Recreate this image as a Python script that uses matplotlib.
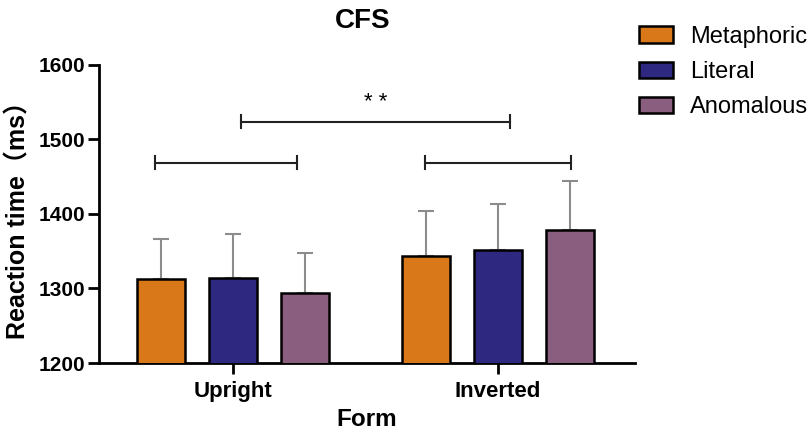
import matplotlib
matplotlib.use("Agg")
import matplotlib.pyplot as plt
import numpy as np
from matplotlib.patches import Patch

plt.rcParams['font.family'] = ['Liberation Sans', 'Noto Sans CJK SC', 'DejaVu Sans']

groups = ["Upright", "Inverted"]
conditions = ["Metaphoric", "Literal", "Anomalous"]
colors = ["#d87818", "#2e2880", "#8a5e7e"]
means = {
    "Metaphoric": [1313, 1344],
    "Literal": [1314, 1352],
    "Anomalous": [1294, 1378],
}
errors = {
    "Metaphoric": [53, 60],
    "Literal": [59, 61],
    "Anomalous": [53, 66],
}
# significance brackets: (x_start, x_end, y)
brackets = [(-0.294, 0.242, 1469), (0.03, 1.045, 1524), (0.725, 1.275, 1469)]
sig_label = "* *"

fig = plt.figure(figsize=(8.1, 4.3), dpi=100)
ax = fig.add_axes([0.1222, 0.1558, 0.6617, 0.6932])

x = np.arange(len(groups))
offset = 0.272
width = 0.182
for i, c in enumerate(conditions):
    pos = x + (i - 1) * offset
    ax.bar(pos, means[c], width, bottom=0, color=colors[i], edgecolor="black",
           linewidth=1.8, zorder=3)
    ax.errorbar(pos, means[c], yerr=[np.zeros(len(groups)), errors[c]],
                fmt="none", ecolor="#8c8c8c", elinewidth=1.5, capsize=6,
                capthick=1.5, zorder=2)

for (x0, x1, y) in brackets:
    ax.plot([x0, x1], [y, y], color="#222222", lw=1.5)
    ax.plot([x0, x0], [y - 9, y + 9], color="#222222", lw=1.5)
    ax.plot([x1, x1], [y - 9, y + 9], color="#222222", lw=1.5)
ax.text(0.538, 1549, sig_label, ha="center", va="center", fontsize=16)

ax.set_ylim(1200, 1600)
ax.set_xlim(-0.506, 1.517)
ax.set_yticks([1200, 1300, 1400, 1500, 1600])
ax.set_xticks(x)
ax.set_xticklabels(groups, fontsize=16, fontweight="bold")
for lab in ax.get_yticklabels():
    lab.set_fontsize(15)
    lab.set_fontweight("bold")
ax.tick_params(axis="both", width=2, length=8, direction="out", pad=2)
ax.tick_params(axis="x", pad=5)
for s in ["top", "right"]:
    ax.spines[s].set_visible(False)
for s in ["left", "bottom"]:
    ax.spines[s].set_linewidth(2)

ax.set_xlabel("Form", fontsize=17.5, fontweight="bold", labelpad=4)
ax.set_ylabel("Reaction time（ms）", fontsize=18, fontweight="bold", labelpad=6)
fig.text(0.448, 0.951, "CFS", ha="center", va="center", fontsize=20, fontweight="bold")

handles = [Patch(facecolor=colors[i], edgecolor="black", linewidth=1.8) for i in range(3)]
fig.legend(handles, conditions, loc="upper left", bbox_to_anchor=(0.777, 0.962),
           frameon=False, fontsize=17, handlelength=1.44, handleheight=0.68,
           handletextpad=0.72, labelspacing=0.56, borderaxespad=0.0)

fig.savefig("out.png", dpi=100)
